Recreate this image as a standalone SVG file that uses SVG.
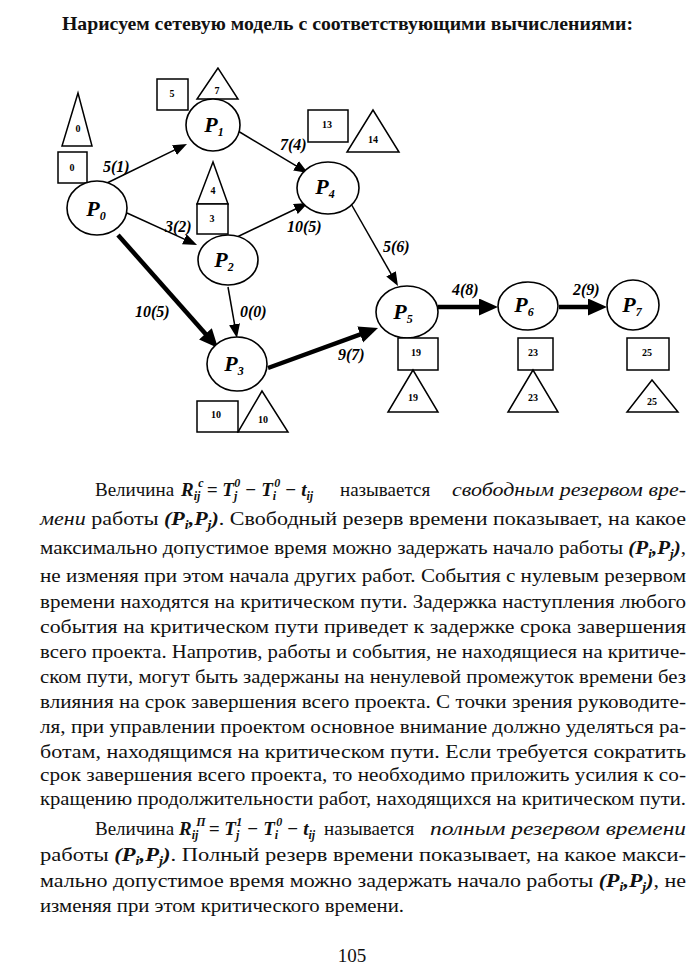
<svg xmlns="http://www.w3.org/2000/svg" width="700" height="969" viewBox="0 0 700 969">
<style>
.t{font-family:"Liberation Serif","Times New Roman",serif;font-size:19px;fill:#111}
.b{font-weight:bold}
.bi{font-weight:bold;font-style:italic}
.it{font-style:italic}
.s{font-size:12px}
.shape{fill:#fff;stroke:#000;stroke-width:1.5}
.nd{fill:#fff;stroke:#000;stroke-width:1.6}
.num{font-family:"Liberation Serif",serif;font-weight:bold;font-size:10px;text-anchor:middle;fill:#000}
.pl{font-family:"Liberation Serif",serif;font-weight:bold;font-style:italic;font-size:22px;text-anchor:middle;fill:#000}
.lbl{font-family:"Liberation Serif",serif;font-weight:bold;font-style:italic;font-size:16px;fill:#000}
.e{stroke:#000;stroke-width:1.5;fill:none;marker-end:url(#ah)}
.k{stroke:#000;stroke-width:4.5;fill:none;marker-end:url(#ahb)}
</style>
<defs>
<marker id="ah" markerUnits="userSpaceOnUse" markerWidth="15" markerHeight="12" refX="9" refY="5.5" orient="auto"><path d="M0,0 L14,5.5 L0,11 z" fill="#000"/></marker>
<marker id="ahb" markerUnits="userSpaceOnUse" markerWidth="20" markerHeight="18" refX="9" refY="8.5" orient="auto"><path d="M0,0 L19,8.5 L0,17 z" fill="#000"/></marker>
</defs>
<rect width="700" height="969" fill="#fff"/>

<text class="t b" x="62" y="30" font-size="17.5" textLength="571" lengthAdjust="spacingAndGlyphs">Нарисуем сетевую модель с соответствующими вычислениями:</text>

<g id="connectors">
<line class="e" x1="107" y1="183" x2="182.5" y2="146.2"/>
<line class="e" x1="127" y1="213" x2="192.5" y2="242.9"/>
<line class="e" x1="238" y1="131" x2="303.7" y2="170.4"/>
<line class="e" x1="237" y1="237" x2="303.5" y2="205.2"/>
<line class="e" x1="350" y1="202" x2="395.5" y2="281.7"/>
<line class="e" x1="228" y1="287" x2="236.1" y2="333.1"/>
<line class="k" x1="118" y1="235" x2="211.4" y2="340.5"/>
<line class="k" x1="268" y1="368" x2="368.6" y2="331.4"/>
<line class="k" x1="438" y1="307" x2="488" y2="307"/>
<line class="k" x1="559" y1="307" x2="597" y2="307"/>
<text class="lbl" x="103" y="172">5(1)</text>
<text class="lbl" x="165" y="232">3(2)</text>
<text class="lbl" x="280" y="150">7(4)</text>
<text class="lbl" x="287" y="232">10(5)</text>
<text class="lbl" x="383" y="252">5(6)</text>
<text class="lbl" x="135" y="317">10(5)</text>
<text class="lbl" x="240" y="317">0(0)</text>
<text class="lbl" x="338" y="360">9(7)</text>
<text class="lbl" x="452" y="295">4(8)</text>
<text class="lbl" x="573" y="295">2(9)</text>
</g>

<g id="P0">
<polygon class="shape" points="78,93 62,146 92,146"/>
<text class="num" x="78" y="132">0</text>
<rect class="shape" x="58" y="152" width="29" height="31"/>
<text class="num" x="72" y="171">0</text>
<ellipse class="nd" cx="97" cy="208" rx="30" ry="27"/>
<text class="pl" x="96" y="216">P<tspan class="s" dy="4">0</tspan></text>
</g>
<g id="P1">
<rect class="shape" x="157" y="79" width="31" height="31"/>
<text class="num" x="172" y="97">5</text>
<polygon class="shape" points="218,68 197,99 238,99"/>
<text class="num" x="217" y="94">7</text>
<ellipse class="nd" cx="213" cy="125" rx="27" ry="26"/>
<text class="pl" x="214" y="132">P<tspan class="s" dy="4">1</tspan></text>
</g>
<g id="P2">
<polygon class="shape" points="213,162 197,204 228,204"/>
<text class="num" x="213" y="194">4</text>
<rect class="shape" x="197" y="204" width="31" height="30"/>
<text class="num" x="212" y="222">3</text>
<ellipse class="nd" cx="228" cy="260" rx="30" ry="25"/>
<text class="pl" x="224" y="267">P<tspan class="s" dy="4">2</tspan></text>
</g>
<g id="P3">
<ellipse class="nd" cx="237" cy="364" rx="30" ry="27"/>
<text class="pl" x="234" y="371">P<tspan class="s" dy="4">3</tspan></text>
<rect class="shape" x="197" y="401" width="41" height="31"/>
<text class="num" x="216" y="418">10</text>
<polygon class="shape" points="262,391 238,432 288,432"/>
<text class="num" x="263" y="423">10</text>
</g>
<g id="P4">
<rect class="shape" x="308" y="110" width="40" height="32"/>
<text class="num" x="327" y="128">13</text>
<polygon class="shape" points="373,110 347,152 399,152"/>
<text class="num" x="373" y="143">14</text>
<ellipse class="nd" cx="328" cy="188" rx="31" ry="26"/>
<text class="pl" x="325" y="194">P<tspan class="s" dy="4">4</tspan></text>
</g>
<g id="P5">
<ellipse class="nd" cx="407" cy="312" rx="31" ry="26"/>
<text class="pl" x="403" y="319">P<tspan class="s" dy="4">5</tspan></text>
<rect class="shape" x="398" y="338" width="40" height="32"/>
<text class="num" x="416" y="356">19</text>
<polygon class="shape" points="413,370 388,412 438,412"/>
<text class="num" x="413" y="401">19</text>
</g>
<g id="P6">
<ellipse class="nd" cx="528" cy="306" rx="30" ry="24"/>
<text class="pl" x="524" y="312">P<tspan class="s" dy="4">6</tspan></text>
<rect class="shape" x="518" y="338" width="35" height="32"/>
<text class="num" x="533" y="356">23</text>
<polygon class="shape" points="533,370 508,412 558,412"/>
<text class="num" x="533" y="401">23</text>
</g>
<g id="P7">
<ellipse class="nd" cx="633" cy="305" rx="26" ry="25"/>
<text class="pl" x="632" y="312">P<tspan class="s" dy="4">7</tspan></text>
<rect class="shape" x="627" y="338" width="42" height="32"/>
<text class="num" x="647" y="356">25</text>
<polygon class="shape" points="652,380 627,412 678,412"/>
<text class="num" x="652" y="405">25</text>
</g>

<g id="text">
<text class="t" x="95" y="496">Величина</text>
<text class="t bi" x="181" y="496">R<tspan class="s" dy="4">ij</tspan><tspan class="s" dy="-13" dx="-2">c</tspan><tspan dy="9" dx="3">=</tspan> T<tspan class="s" dy="4">j</tspan><tspan class="s" dy="-13" dx="-3">0</tspan><tspan dy="9"> − T</tspan><tspan class="s" dy="4">i</tspan><tspan class="s" dy="-13" dx="-2">0</tspan><tspan dy="9"> − t</tspan><tspan class="s" dy="4">ij</tspan></text>
<text class="t" x="340" y="496">называется</text>
<text class="t it" x="452" y="496" textLength="234" lengthAdjust="spacingAndGlyphs">свободным резервом вре-</text>

<text class="t" x="40" y="525" textLength="646" lengthAdjust="spacingAndGlyphs"><tspan class="it">мени</tspan> работы <tspan class="bi">(P</tspan><tspan class="bi s" dy="4">i</tspan><tspan class="bi" dy="-4">,P</tspan><tspan class="bi s" dy="4">j</tspan><tspan class="bi" dy="-4">)</tspan>. Свободный резерв времени показывает, на какое</text>
<text class="t" x="40" y="554" textLength="646" lengthAdjust="spacingAndGlyphs">максимально допустимое время можно задержать начало работы <tspan class="bi">(P</tspan><tspan class="bi s" dy="4">i</tspan><tspan class="bi" dy="-4">,P</tspan><tspan class="bi s" dy="4">j</tspan><tspan class="bi" dy="-4">)</tspan>,</text>
<text class="t" x="40" y="582" textLength="646" lengthAdjust="spacingAndGlyphs">не изменяя при этом начала других работ. События с нулевым резервом</text>
<text class="t" x="40" y="608" textLength="646" lengthAdjust="spacingAndGlyphs">времени находятся на критическом пути. Задержка наступления любого</text>
<text class="t" x="40" y="633" textLength="646" lengthAdjust="spacingAndGlyphs">события на критическом пути приведет к задержке срока завершения</text>
<text class="t" x="40" y="658" textLength="646" lengthAdjust="spacingAndGlyphs">всего проекта. Напротив, работы и события, не находящиеся на критиче-</text>
<text class="t" x="40" y="683" textLength="646" lengthAdjust="spacingAndGlyphs">ском пути, могут быть задержаны на ненулевой промежуток времени без</text>
<text class="t" x="40" y="708" textLength="646" lengthAdjust="spacingAndGlyphs">влияния на срок завершения всего проекта. С точки зрения руководите-</text>
<text class="t" x="40" y="733" textLength="646" lengthAdjust="spacingAndGlyphs">ля, при управлении проектом основное внимание должно уделяться ра-</text>
<text class="t" x="40" y="758" textLength="646" lengthAdjust="spacingAndGlyphs">ботам, находящимся на критическом пути. Если требуется сократить</text>
<text class="t" x="40" y="781" textLength="646" lengthAdjust="spacingAndGlyphs">срок завершения всего проекта, то необходимо приложить усилия к со-</text>
<text class="t" x="40" y="805" textLength="646" lengthAdjust="spacingAndGlyphs">кращению продолжительности работ, находящихся на критическом пути.</text>

<text class="t" x="95" y="835">Величина</text>
<text class="t bi" x="179" y="835">R<tspan class="s" dy="4">ij</tspan><tspan class="s" dy="-13" dx="-2">П</tspan><tspan dy="9" dx="3">=</tspan> T<tspan class="s" dy="4">j</tspan><tspan class="s" dy="-13" dx="-3">1</tspan><tspan dy="9"> − T</tspan><tspan class="s" dy="4">i</tspan><tspan class="s" dy="-13" dx="-2">0</tspan><tspan dy="9"> − t</tspan><tspan class="s" dy="4">ij</tspan></text>
<text class="t" x="324" y="835">называется</text>
<text class="t it" x="430" y="835" textLength="256" lengthAdjust="spacingAndGlyphs">полным резервом времени</text>
<text class="t" x="40" y="861" textLength="646" lengthAdjust="spacingAndGlyphs">работы <tspan class="bi">(P</tspan><tspan class="bi s" dy="4">i</tspan><tspan class="bi" dy="-4">,P</tspan><tspan class="bi s" dy="4">j</tspan><tspan class="bi" dy="-4">)</tspan>. Полный резерв времени показывает, на какое макси-</text>
<text class="t" x="40" y="887" textLength="646" lengthAdjust="spacingAndGlyphs">мально допустимое время можно задержать начало работы <tspan class="bi">(P</tspan><tspan class="bi s" dy="4">i</tspan><tspan class="bi" dy="-4">,P</tspan><tspan class="bi s" dy="4">j</tspan><tspan class="bi" dy="-4">)</tspan>, не</text>
<text class="t" x="40" y="912" textLength="364" lengthAdjust="spacingAndGlyphs">изменяя при этом критического времени.</text>
<text class="t" x="352" y="962" text-anchor="middle">105</text>
</g>
</svg>
